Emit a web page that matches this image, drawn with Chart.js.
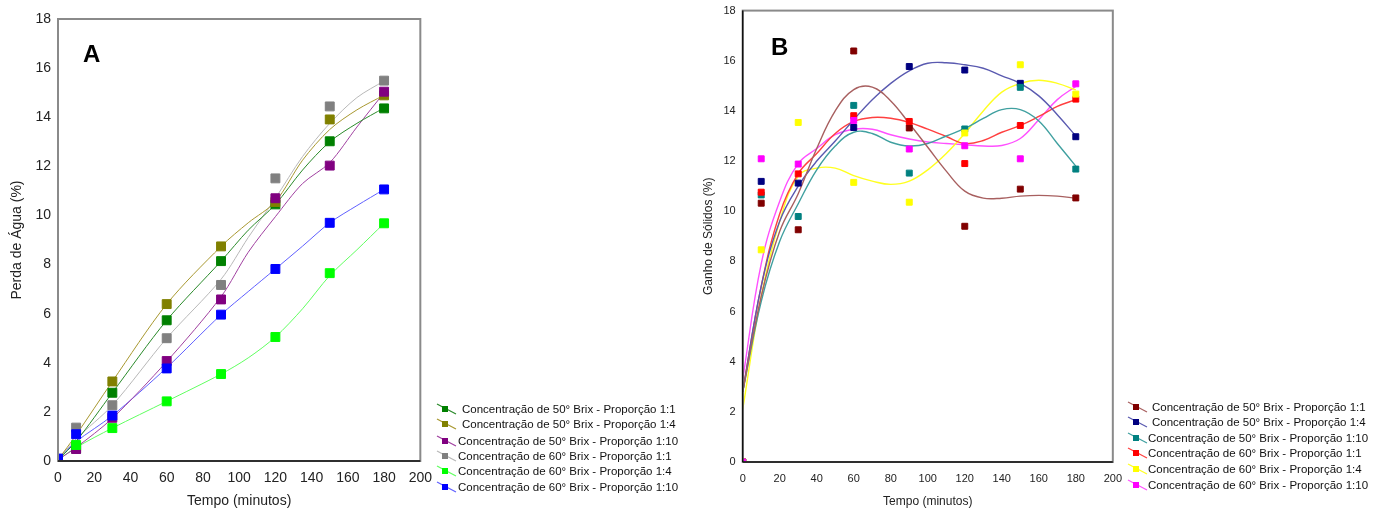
<!DOCTYPE html>
<html>
<head>
<meta charset="utf-8">
<script src="https://cdn.jsdelivr.net/npm/chart.js@4.4.1/dist/chart.umd.min.js"></script>
<style>
  body { margin: 0; background: #fff; width: 1387px; height: 513px; overflow: hidden; position: relative;
         font-family: "Liberation Sans", Arial, sans-serif; }
  .box { position: absolute; }
  #boxA { left: 0; top: 0; width: 441px; height: 513px; }
  #boxB { left: 690px; top: -3px; width: 442px; height: 516px; }
  .tag { position: absolute; font-weight: bold; font-size: 24px; color: #000; line-height: 24px; }
  .legend { position: absolute; left: 0; top: 0; font-size: 11.5px; color: #111; }
  .row { position: absolute; white-space: nowrap; height: 16px; line-height: 16px; }
  .row svg { position: absolute; top: -2px; }
</style>
</head>
<body>
<div class="box" id="boxA"><canvas id="chartA"></canvas></div>
<div class="box" id="boxB"><canvas id="chartB"></canvas></div>
<div class="tag" style="left:83px;top:42px">A</div>
<div class="tag" style="left:771px;top:35px">B</div>
<div class="legend" id="legendA"></div>
<div class="legend" id="legendB"></div>
<script>
const labels = [
  'Concentração de 50° Brix - Proporção 1:1',
  'Concentração de 50° Brix - Proporção 1:4',
  'Concentração de 50° Brix - Proporção 1:10',
  'Concentração de 60° Brix - Proporção 1:1',
  'Concentração de 60° Brix - Proporção 1:4',
  'Concentração de 60° Brix - Proporção 1:10',
];
const xTicks = [0, 20, 40, 60, 80, 100, 120, 140, 160, 180, 200];
const yTicks = [0, 2, 4, 6, 8, 10, 12, 14, 16, 18];

// measured times (minutes)
const times = [0, 10, 30, 60, 90, 120, 150, 180];

// A: Perda de Água (%) - markers
const lossA50_11 = [0.05, 0.5, 2.78, 5.73, 8.14, 10.45, 13.02, 14.36];
const lossA50_14 = [0.05, 0.6, 3.24, 6.39, 8.74, 10.55, 13.91, 14.89];
const lossA50_110 = [0.05, 0.49, 1.76, 4.07, 6.58, 10.7, 12.03, 15.04];
const lossA60_11 = [0.05, 1.36, 2.27, 5.0, 7.17, 11.51, 14.44, 15.49];
const lossA60_14 = [0.05, 0.65, 1.34, 2.43, 3.54, 5.05, 7.65, 9.68];
const lossA60_110 = [0.1, 1.09, 1.85, 3.77, 5.96, 7.82, 9.7, 11.06];

// A: fitted curves
const fitTimesA = [0, 10, 30, 60, 90, 105, 120, 135, 150, 165, 180];
const fitA50_11 = [0.05, 0.8, 2.78, 5.73, 8.14, 9.4, 10.45, 11.85, 13.0, 13.75, 14.38];
const fitA50_14 = [0.05, 1.06, 3.24, 6.39, 8.74, 9.7, 10.56, 12.25, 13.5, 14.3, 14.9];
const fitA50_110 = [0.05, 0.55, 1.74, 4.05, 6.69, 8.5, 9.95, 11.3, 12.15, 13.6, 15.0];
const fitA60_11 = [0.05, 0.9, 2.27, 5.0, 7.4, 9.1, 10.7, 12.4, 13.75, 14.8, 15.48];
const fitA60_14 = [0.05, 0.55, 1.34, 2.43, 3.54, 4.2, 5.05, 6.2, 7.55, 8.6, 9.68];
const fitA60_110 = [0.1, 0.79, 1.85, 3.8, 5.96, 6.9, 7.82, 8.75, 9.7, 10.4, 11.06];

// B: Ganho de Sólidos (%) - markers
const gainB50_11 = [0, 10.32, 9.26, 16.39, 13.32, 9.4, 10.88, 10.53];
const gainB50_14 = [0, 11.19, 11.12, 13.34, 15.77, 15.63, 15.1, 12.97];
const gainB50_110 = [0, 10.65, 9.79, 14.22, 11.52, 13.28, 14.94, 11.68];
const gainB60_11 = [0, 10.76, 11.49, 13.81, 13.58, 11.9, 13.42, 14.47];
const gainB60_14 = [0, 8.46, 13.54, 11.15, 10.36, 13.12, 15.84, 14.67];
const gainB60_110 = [0, 12.09, 11.88, 13.62, 12.48, 12.61, 12.09, 15.08];

// B: fitted curves
const fitTimesB = [0, 10, 20, 30, 40, 50, 60, 70, 80, 90, 100, 110, 120, 130, 140, 150, 160, 170, 180];
const fitB50_11 = [2.8, 6.6, 9.2, 10.7, 12.5, 14.0, 14.85, 14.95, 14.4, 13.5, 12.55, 11.6, 10.8, 10.52, 10.52, 10.6, 10.63, 10.6, 10.52];
const fitB50_14 = [2.8, 7.0, 9.6, 11.0, 12.0, 12.8, 13.65, 14.45, 15.1, 15.6, 15.9, 15.92, 15.84, 15.7, 15.4, 15.1, 14.6, 13.85, 13.0];
const fitB50_110 = [2.8, 6.4, 8.8, 10.3, 11.65, 12.6, 13.15, 13.1, 12.75, 12.6, 12.7, 13.0, 13.3, 13.7, 14.05, 14.05, 13.6, 12.7, 11.8];
const fitB60_11 = [2.8, 7.0, 9.9, 11.5, 12.3, 13.1, 13.58, 13.74, 13.71, 13.54, 13.27, 12.98, 12.7, 12.82, 13.15, 13.42, 13.78, 14.18, 14.45];
const fitB60_14 = [2.1, 6.6, 9.6, 11.4, 11.72, 11.72, 11.42, 11.2, 11.07, 11.2, 11.65, 12.3, 13.1, 14.0, 14.75, 15.1, 15.22, 15.1, 14.84];
const fitB60_110 = [3.3, 7.9, 10.4, 11.9, 12.5, 13.05, 13.27, 13.27, 13.05, 12.88, 12.76, 12.7, 12.65, 12.6, 12.62, 12.9, 13.65, 14.45, 14.98];

const colorsA = ['#008000', '#808000', '#800080', '#808080', '#00ff00', '#0000ff'];
const lineColorsA = ['#2a8a2a', '#a89830', '#a040a0', '#b8b8b8', '#60ff60', '#6060ff'];
const colorsB = ['#800000', '#000080', '#008080', '#ff0000', '#ffff00', '#ff00ff'];
const lineColorsB = ['#a86060', '#5a5ab0', '#40a0a0', '#ff4040', '#ffff20', '#ff50ff'];

const pointsA = [lossA50_11, lossA50_14, lossA50_110, lossA60_11, lossA60_14, lossA60_110];
const fitsA = [fitA50_11, fitA50_14, fitA50_110, fitA60_11, fitA60_14, fitA60_110];
const pointsB = [gainB50_11, gainB50_14, gainB50_110, gainB60_11, gainB60_14, gainB60_110];
const fitsB = [fitB50_11, fitB50_14, fitB50_110, fitB60_11, fitB60_14, fitB60_110];

const toXY = (xs, ys) => ys.map((y, i) => ({ x: xs[i], y }));

const framePlugin = {
  id: 'frame',
  afterDatasetsDraw(chart, args, opts) {
    const { ctx, chartArea: a } = chart;
    ctx.save();
    ctx.strokeStyle = '#8a8a8a';
    ctx.lineWidth = 2;
    ctx.strokeRect(a.left, a.top, a.right - a.left, a.bottom - a.top);
    ctx.strokeStyle = '#111';
    ctx.lineWidth = 1.5;
    ctx.beginPath();
    if (opts.darkLeft) { ctx.moveTo(a.left, a.top); ctx.lineTo(a.left, a.bottom); }
    if (opts.darkBottom) { ctx.moveTo(a.left, a.bottom); ctx.lineTo(a.right, a.bottom); }
    ctx.stroke();
    ctx.restore();
  },
};

function buildDatasets(points, fits, fitTimes, colors, lineColors, radius, lineWidth, tension) {
  const sets = [];
  points.forEach((vals, i) => {
    sets.push({
      label: labels[i],
      data: toXY(times, vals),
      showLine: false,
      pointStyle: 'rect',
      pointRadius: radius,
      pointBorderWidth: 1,
      pointBackgroundColor: colors[i],
      pointBorderColor: colors[i],
      order: 6 - i,
    });
    sets.push({
      label: labels[i] + ' (ajuste)',
      data: toXY(fitTimes, fits[i]),
      showLine: true,
      borderColor: lineColors[i],
      borderWidth: lineWidth,
      tension,
      pointRadius: 0,
      order: 20,
    });
  });
  return sets;
}

function makeScales(cfg) {
  const font = { family: '"Liberation Sans", Arial, sans-serif', size: cfg.tickSize };
  const titleFont = { family: '"Liberation Sans", Arial, sans-serif', size: cfg.titleSize };
  return {
    x: {
      type: 'linear', min: 0, max: 200,
      afterBuildTicks: (s) => { s.ticks = xTicks.map((v) => ({ value: v })); },
      afterFit: (s) => { s.height = cfg.xHeight; },
      grid: { display: false, drawTicks: false },
      border: { display: false },
      ticks: { font, color: '#222', padding: cfg.xPad, maxRotation: 0, autoSkip: false },
      title: { display: true, text: 'Tempo (minutos)', font: titleFont, color: '#222',
               padding: { top: cfg.xTitlePad, bottom: cfg.xTitlePad } },
    },
    y: {
      type: 'linear', min: 0, max: 18,
      afterBuildTicks: (s) => { s.ticks = yTicks.map((v) => ({ value: v })); },
      afterFit: (s) => { s.width = cfg.yWidth; },
      grid: { display: false, drawTicks: false },
      border: { display: false },
      ticks: { font, color: '#222', padding: cfg.yPad, autoSkip: false },
      title: { display: true, text: cfg.yTitle, font: titleFont, color: '#222',
               padding: { top: cfg.yTitlePad, bottom: cfg.yTitlePad } },
    },
  };
}

function makeChart(id, datasets, scaleCfg, padding, frameOpts) {
  return new Chart(document.getElementById(id), {
    type: 'scatter',
    data: { datasets },
    options: {
      responsive: true,
      maintainAspectRatio: false,
      animation: false,
      layout: { padding },
      plugins: { legend: { display: false }, tooltip: { enabled: false }, frame: frameOpts },
      scales: makeScales(scaleCfg),
    },
    plugins: [framePlugin],
  });
}

makeChart('chartA',
  buildDatasets(pointsA, fitsA, fitTimesA, colorsA, lineColorsA, 6.3, 1, 0.3),
  { tickSize: 14, titleSize: 14, xHeight: 52, yWidth: 58, xPad: 9, yPad: 7, xTitlePad: 3, yTitlePad: 9,
    yTitle: 'Perda de Água (%)' },
  { top: 19, left: 0, right: 16, bottom: 0 },
  { darkLeft: false, darkBottom: true });

makeChart('chartB',
  buildDatasets(pointsB, fitsB, fitTimesB, colorsB, lineColorsB, 4.2, 1.4, 0.4),
  { tickSize: 11, titleSize: 12, xHeight: 51, yWidth: 52.7, xPad: 10, yPad: 7, xTitlePad: 4, yTitlePad: 11,
    yTitle: 'Ganho de Sólidos (%)' },
  { top: 11, left: 0, right: 17.8, bottom: 0 },
  { darkLeft: true, darkBottom: true });

function buildLegend(elId, colors, lineColors, symbolX, rows, textX) {
  const el = document.getElementById(elId);
  labels.forEach((text, i) => {
    const row = document.createElement('div');
    row.className = 'row';
    row.style.left = symbolX + 'px';
    row.style.top = (rows[i] - 8) + 'px';
    row.style.paddingLeft = (textX[i] - symbolX) + 'px';
    row.innerHTML =
      `<svg width="21" height="20" style="left:0">` +
      `<line x1="1" y1="5" x2="20" y2="15" stroke="${lineColors[i]}" stroke-width="1.2"/>` +
      `<rect x="6" y="7" width="6" height="6" fill="${colors[i]}"/></svg>`;
    row.appendChild(document.createTextNode(text));
    el.appendChild(row);
  });
}

buildLegend('legendA', colorsA, lineColorsA, 436, [409, 424, 441, 456, 471, 487], [462, 462, 458, 458, 458, 458]);
buildLegend('legendB', colorsB, lineColorsB, 1127, [407, 422, 438, 453, 469, 485], [1152, 1152, 1148, 1148, 1148, 1148]);
</script>
</body>
</html>
